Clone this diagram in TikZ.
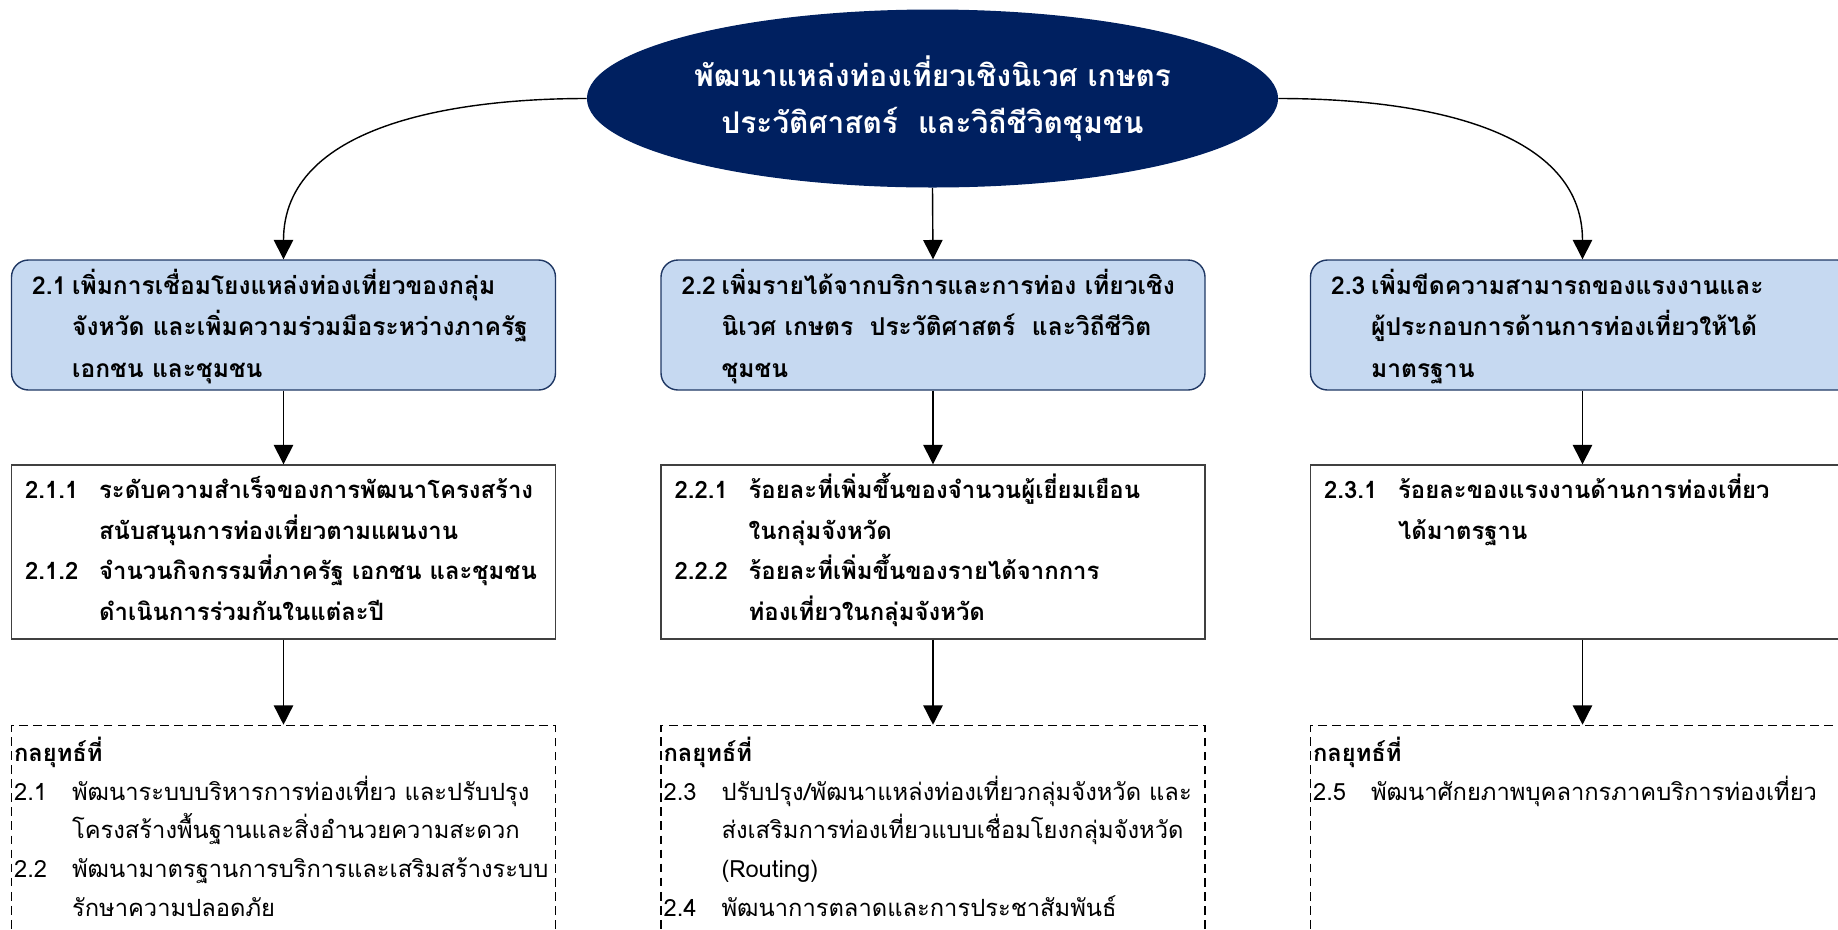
\documentclass[tikz,border=0pt]{standalone}
\usepackage{fontspec}
\setmainfont{Loma}[Script=Thai]
\usepackage{array}
\usepackage{tikz}
\usetikzlibrary{shapes.geometric, arrows.meta, calc}
\definecolor{navy}{HTML}{002060}
\definecolor{goalfill}{HTML}{C6D9F1}
\definecolor{goaledge}{HTML}{203864}
\definecolor{kpiedge}{HTML}{404040}
\tikzset{goalbox/.style={rectangle, rounded corners = 0.34cm, draw = goaledge, fill = goalfill,
line width = 0.8pt, minimum width = 10.88cm, minimum height = 2.6cm}}
\tikzset{kpibox/.style={rectangle, draw = kpiedge, line width = 0.8pt,
minimum width = 10.88cm, minimum height = 3.48cm}}
\tikzset{stratbox/.style={rectangle, draw, line width = 0.9pt, dash pattern = on 5pt off 3pt,
minimum width = 10.88cm, minimum height = 5cm}}
\tikzset{goaltext/.style={anchor = north west, inner sep = 0pt, font = \bfseries\fontsize{14}{23.5}\selectfont}}
\tikzset{kpitext/.style={anchor = north west, inner sep = 0pt, font = \bfseries\fontsize{13.6}{23}\selectfont}}
\tikzset{strattext/.style={anchor = north west, inner sep = 0pt, font = \fontsize{13.5}{22}\selectfont}}
\tikzset{flowarrow/.style={line width = 0.8pt, -{Triangle[length = 11pt, width = 11pt]}}}

\begin{document}
\begin{tikzpicture}[
]
\useasboundingbox (0,0) rectangle (36.76,-18.58);
\clip (0,0) rectangle (36.76,-18.58);

\node[ellipse,
fill = navy,
minimum width = 13.72cm,
minimum height = 3.56cm,
text = white,
align = center,
font = \bfseries\fontsize{17}{27}\selectfont] (vision) at (18.65,-1.97)
{พัฒนาแหล่งท่องเที่ยวเชิงนิเวศ เกษตร\\ประวัติศาสตร์~~และวิถีชีวิตชุมชน};

\node [goalbox] (g1) at (5.67,-6.5) {};
\node [goalbox] (g2) at (18.66,-6.5) {};
\node [goalbox] (g3) at (31.65,-6.5) {};

\node [kpibox] (k1) at (5.67,-11.04) {};
\node [kpibox] (k2) at (18.66,-11.04) {};
\node [kpibox] (k3) at (31.65,-11.04) {};

\node [stratbox] (s1) at (5.67,-17.01) {};
\node [stratbox] (s2) at (18.66,-17.01) {};
\node [stratbox] (s3) at (31.65,-17.01) {};

\node [goaltext] (g1t) at ($(g1.north west)+(0.42,-0.12)$) {\begin{tabular}{@{}p{0.8cm}@{}l@{}}
2.1 & เพิ่มการเชื่อมโยงแหล่งท่องเที่ยวของกลุ่ม\\
 & จังหวัด และเพิ่มความร่วมมือระหว่างภาครัฐ\\
 & เอกชน และชุมชน
\end{tabular}};
\node [goaltext] (g2t) at ($(g2.north west)+(0.42,-0.12)$) {\begin{tabular}{@{}p{0.8cm}@{}l@{}}
2.2 & เพิ่มรายได้จากบริการและการท่อง เที่ยวเชิง\\
 & นิเวศ เกษตร~~ประวัติศาสตร์~~และวิถีชีวิต\\
 & ชุมชน
\end{tabular}};
\node [goaltext] (g3t) at ($(g3.north west)+(0.42,-0.12)$) {\begin{tabular}{@{}p{0.8cm}@{}l@{}}
2.3 & เพิ่มขีดความสามารถของแรงงานและ\\
 & ผู้ประกอบการด้านการท่องเที่ยวให้ได้\\
 & มาตรฐาน
\end{tabular}};

\node [kpitext] (k1t) at ($(k1.north west)+(0.28,-0.12)$) {\begin{tabular}{@{}p{1.48cm}@{}l@{}}
2.1.1 & ระดับความสำเร็จของการพัฒนาโครงสร้าง\\
 & สนับสนุนการท่องเที่ยวตามแผนงาน\\
2.1.2 & จำนวนกิจกรรมที่ภาครัฐ เอกชน และชุมชน\\
 & ดำเนินการร่วมกันในแต่ละปี
\end{tabular}};
\node [kpitext] (k2t) at ($(k2.north west)+(0.28,-0.12)$) {\begin{tabular}{@{}p{1.48cm}@{}l@{}}
2.2.1 & ร้อยละที่เพิ่มขึ้นของจำนวนผู้เยี่ยมเยือน\\
 & ในกลุ่มจังหวัด\\
2.2.2 & ร้อยละที่เพิ่มขึ้นของรายได้จากการ\\
 & ท่องเที่ยวในกลุ่มจังหวัด
\end{tabular}};
\node [kpitext] (k3t) at ($(k3.north west)+(0.28,-0.12)$) {\begin{tabular}{@{}p{1.48cm}@{}l@{}}
2.3.1 & ร้อยละของแรงงานด้านการท่องเที่ยว\\
 & ได้มาตรฐาน
\end{tabular}};

\node [strattext] (s1t) at ($(s1.north west)+(0.06,-0.19)$) {\begin{tabular}{@{}p{1.16cm}@{}l@{}}
\multicolumn{2}{@{}l@{}}{\bfseries กลยุทธ์ที่}\\
2.1 & พัฒนาระบบบริหารการท่องเที่ยว และปรับปรุง\\
 & โครงสร้างพื้นฐานและสิ่งอำนวยความสะดวก\\
2.2 & พัฒนามาตรฐานการบริการและเสริมสร้างระบบ\\
 & รักษาความปลอดภัย
\end{tabular}};
\node [strattext] (s2t) at ($(s2.north west)+(0.06,-0.19)$) {\begin{tabular}{@{}p{1.16cm}@{}l@{}}
\multicolumn{2}{@{}l@{}}{\bfseries กลยุทธ์ที่}\\
2.3 & ปรับปรุง/พัฒนาแหล่งท่องเที่ยวกลุ่มจังหวัด และ\\
 & ส่งเสริมการท่องเที่ยวแบบเชื่อมโยงกลุ่มจังหวัด\\
 & (Routing)\\
2.4 & พัฒนาการตลาดและการประชาสัมพันธ์
\end{tabular}};
\node [strattext] (s3t) at ($(s3.north west)+(0.06,-0.19)$) {\begin{tabular}{@{}p{1.16cm}@{}l@{}}
\multicolumn{2}{@{}l@{}}{\bfseries กลยุทธ์ที่}\\
2.5 & พัฒนาศักยภาพบุคลากรภาคบริการท่องเที่ยว
\end{tabular}};

\draw [flowarrow] (vision.west) to[out = 180, in = 90] (g1.north);
\draw [flowarrow] (vision.south) -- (g2.north);
\draw [flowarrow] (vision.east) to[out = 0, in = 90] (g3.north);

\draw [flowarrow] (g1) -- (k1);
\draw [flowarrow] (g2) -- (k2);
\draw [flowarrow] (g3) -- (k3);

\draw [flowarrow] (k1) -- (s1);
\draw [flowarrow] (k2) -- (s2);
\draw [flowarrow] (k3) -- (s3);

\end{tikzpicture}
\end{document}
